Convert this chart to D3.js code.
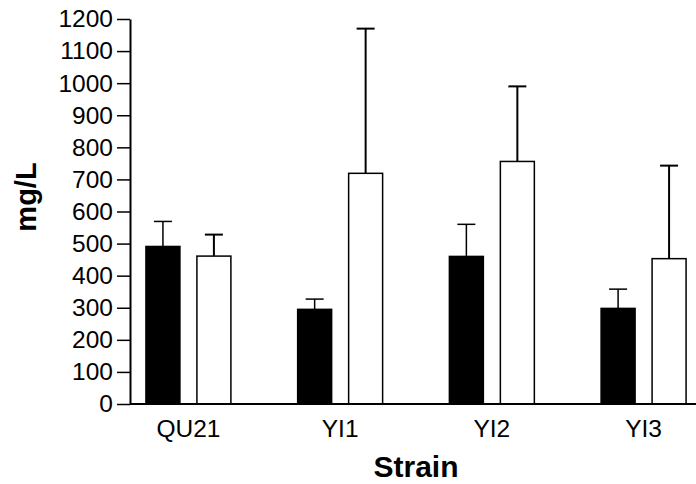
<!DOCTYPE html>
<html>
<head>
<meta charset="utf-8">
<script src="https://cdn.jsdelivr.net/npm/d3@7"></script>
<style>
  body { margin: 0; background: #fff; }
  text { font-family: "Liberation Sans", Arial, sans-serif; }
</style>
</head>
<body>
<div id="chart"></div>
<script>
var strains = ["QU21", "YI1", "YI2", "YI3"];
var seriesNames = ["black", "white"];
var blackMeans = [491, 295, 460, 298];
var blackErr = [78, 32, 100, 60];
var whiteMeans = [461, 719, 756, 453];
var whiteErr = [67, 451, 234, 290];
var yTicks = [0, 100, 200, 300, 400, 500, 600, 700, 800, 900, 1000, 1100, 1200];

var width = 696, height = 484;

var svg = d3.select("#chart").append("svg")
    .attr("width", width)
    .attr("height", height);

var y = d3.scaleLinear().domain([0, 1200]).range([404, 19]);

var x0 = d3.scaleBand().domain(strains)
    .range([130, 702])
    .paddingInner(0.44)
    .paddingOuter(0.105);

var x1 = d3.scaleBand().domain(seriesNames)
    .range([0, x0.bandwidth()])
    .paddingInner(1 / 3);

var rows = strains.map(function (s, i) {
    return [
        { strain: s, key: "black", v: blackMeans[i], e: blackErr[i] },
        { strain: s, key: "white", v: whiteMeans[i], e: whiteErr[i] }
    ];
});
var flat = [].concat.apply([], rows);

// error bars first, so the bar tops cover the stem
var capW = 18;
var err = svg.append("g").selectAll("g")
    .data(flat).enter().append("g")
    .attr("stroke", "#000")
    .attr("stroke-width", function (d) { return d.key == "white" ? 2 : 1.5; });
err.append("line")
    .attr("x1", function (d) { return x0(d.strain) + x1(d.key) + x1.bandwidth() / 2; })
    .attr("x2", function (d) { return x0(d.strain) + x1(d.key) + x1.bandwidth() / 2; })
    .attr("y1", function (d) { return y(d.v); })
    .attr("y2", function (d) { return y(d.v + d.e); });
err.append("line")
    .attr("x1", function (d) { return x0(d.strain) + x1(d.key) + x1.bandwidth() / 2 - capW / 2; })
    .attr("x2", function (d) { return x0(d.strain) + x1(d.key) + x1.bandwidth() / 2 + capW / 2; })
    .attr("y1", function (d) { return y(d.v + d.e); })
    .attr("y2", function (d) { return y(d.v + d.e); });

svg.append("g").selectAll("rect")
    .data(flat).enter().append("rect")
    .attr("x", function (d) { return x0(d.strain) + x1(d.key); })
    .attr("y", function (d) { return y(d.v); })
    .attr("width", x1.bandwidth())
    .attr("height", function (d) { return y(0) - y(d.v); })
    .attr("fill", function (d) { return d.key == "black" ? "#000" : "#fff"; })
    .attr("stroke", "#000")
    .attr("stroke-width", 1.5);

// y axis
var yAxis = svg.append("g")
    .attr("transform", "translate(130,0)")
    .call(d3.axisLeft(y).tickValues(yTicks).tickFormat(d3.format("d"))
        .tickSize(13).tickPadding(4).tickSizeOuter(0));
yAxis.select(".domain").attr("stroke-width", 2);
yAxis.selectAll(".tick line").attr("stroke-width", 1.5);
yAxis.selectAll("text")
    .attr("font-size", 24.5)
    .attr("font-family", "Liberation Sans, Arial, sans-serif")
    .attr("fill", "#000");

// x axis
var xAxis = svg.append("g")
    .attr("transform", "translate(0,404)")
    .call(d3.axisBottom(x0).tickSize(0).tickPadding(16).tickSizeOuter(0));
xAxis.select(".domain").attr("d", "M130,0H696").attr("stroke-width", 2);
xAxis.selectAll("text")
    .attr("font-size", 24.5)
    .attr("font-family", "Liberation Sans, Arial, sans-serif")
    .attr("fill", "#000");

svg.append("text")
    .attr("x", 416)
    .attr("y", 477)
    .attr("text-anchor", "middle")
    .attr("font-size", 30)
    .attr("font-weight", "bold")
    .text("Strain");

svg.append("text")
    .attr("transform", "translate(36,197) rotate(-90)")
    .attr("text-anchor", "middle")
    .attr("font-size", 29)
    .attr("font-weight", "bold")
    .text("mg/L");
</script>
</body>
</html>
